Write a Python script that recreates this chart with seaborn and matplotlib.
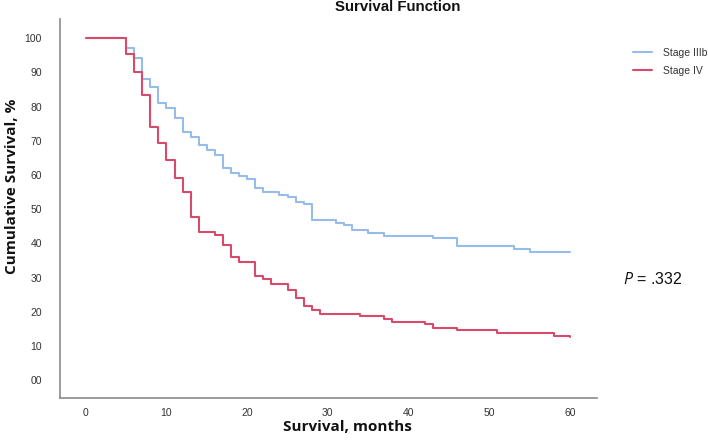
import pandas as pd
import matplotlib.pyplot as plt
import seaborn as sns

# --- data (Kaplan-Meier steps) ---
groups = ['Stage IIIb', 'Stage IV']

iiib_months = [0, 5, 6, 7, 8, 9, 10, 11, 12, 13, 14, 15, 16, 17, 18, 19, 20, 21, 22,
               24, 25, 26, 27, 28, 31, 32, 33, 35, 37, 43, 46, 53, 55, 60]
iiib_surv = [100, 97.1, 94.2, 88.1, 85.7, 81.0, 79.5, 76.6, 72.7, 71.2, 68.7, 67.3,
             65.9, 62.0, 60.7, 59.7, 58.8, 56.1, 55.1, 54.2, 53.5, 52.2, 51.5, 46.9,
             46.1, 45.4, 43.9, 43.1, 42.3, 41.5, 39.3, 38.5, 37.6, 37.6]

iv_months = [0, 5, 6, 7, 8, 9, 10, 11, 12, 13, 14, 16, 17, 18, 19, 21, 22, 23, 25,
             26, 27, 28, 29, 34, 37, 38, 42, 43, 46, 51, 58, 60]
iv_surv = [100, 95.4, 90.0, 83.4, 74.0, 69.3, 64.4, 59.0, 55.0, 47.8, 43.3, 42.5,
           39.6, 36.1, 34.5, 30.5, 29.5, 28.2, 26.4, 24.0, 21.7, 20.4, 19.4, 18.7,
           17.8, 17.0, 16.3, 15.4, 14.6, 13.7, 13.0, 12.5]

x_ticks = [0, 10, 20, 30, 40, 50, 60]
y_ticks = [0, 10, 20, 30, 40, 50, 60, 70, 80, 90, 100]
y_tick_labels = ['00', '10', '20', '30', '40', '50', '60', '70', '80', '90', '100']
p_text = '$P$ = .332'

COLORS = {'Stage IIIb': '#98bcea', 'Stage IV': '#d84a6c'}

df = pd.concat([
    pd.DataFrame({'month': iiib_months, 'surv': iiib_surv, 'group': groups[0]}),
    pd.DataFrame({'month': iv_months, 'surv': iv_surv, 'group': groups[1]}),
])

sns.set_style('white')
plt.rcParams['font.family'] = ['Liberation Sans', 'DejaVu Sans']
plt.rcParams['mathtext.fontset'] = 'custom'
plt.rcParams['mathtext.it'] = 'Open Sans:italic'
plt.rcParams['mathtext.rm'] = 'Open Sans'

fig = plt.figure(figsize=(7.08, 4.45), dpi=100)
ax = fig.add_axes([0.0847, 0.105, 0.758, 0.852])

sns.lineplot(data=df, x='month', y='surv', hue='group', hue_order=groups,
             palette=COLORS, drawstyle='steps-post', linewidth=1.5,
             estimator=None, ax=ax)

ax.set_xlim(-3.2, 63.3)
ax.set_ylim(-5.3, 105.6)
ax.set_xticks(x_ticks)
ax.set_yticks(y_ticks)
ax.set_yticklabels(y_tick_labels)
ax.tick_params(axis='both', length=0, labelsize=7.5, colors='#333333')
ax.tick_params(axis='y', pad=13)
ax.tick_params(axis='x', pad=7)

for side in ['top', 'right']:
    ax.spines[side].set_visible(False)
for side in ['left', 'bottom']:
    ax.spines[side].set_color('#8a8a8a')
    ax.spines[side].set_linewidth(1.2)

ax.set_xlabel('Survival, months', fontsize=11, fontweight='bold',
              family='Open Sans', color='#111111')
ax.xaxis.set_label_coords(0.536, -0.058)
ax.set_ylabel('Cumulative Survival, %', fontsize=11, fontweight='bold',
              family='Open Sans', color='#111111')
ax.yaxis.set_label_coords(-0.076, 0.56)

fig.text(0.561, 0.984, 'Survival Function', ha='center', va='center',
         fontsize=10.8, fontweight='bold', color='#111111')

leg = ax.legend(loc='upper left', bbox_to_anchor=(1.067, 0.925), frameon=False,
                fontsize=7.5, handlelength=1.9, handletextpad=1.0,
                labelspacing=0.8, borderpad=0, borderaxespad=0)
for t in leg.get_texts():
    t.set_color('#333333')

fig.text(0.88, 0.373, p_text, ha='left', va='center', fontsize=11.5, color='#111111')

fig.savefig('out.png', dpi=100)
